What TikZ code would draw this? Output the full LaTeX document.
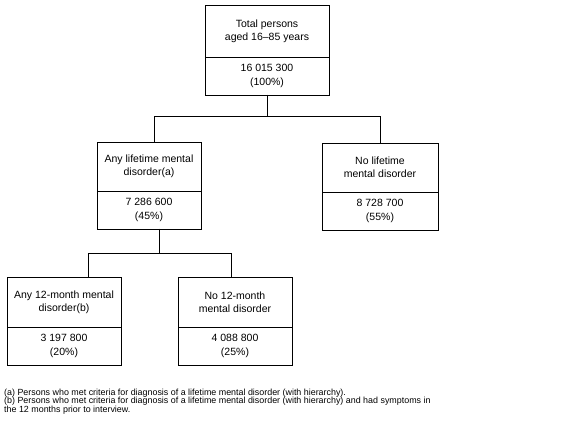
\documentclass[tikz,border=0pt]{standalone}
\usepackage{fontspec}
\setmainfont{Liberation Sans}
\usetikzlibrary{positioning}

\tikzset{
  cell/.style={draw, line width=0.8pt, outer sep=0pt, align=center,
    font=\fontsize{10.5}{13.3}\selectfont},
  tronc/.style={line width=0.8pt}
}

\begin{document}
\begin{tikzpicture}[x=1pt, y=-1pt]
  \useasboundingbox (0,0) rectangle (587,427);

  \foreach \cx/\cy/\larg/\haut/\nom/\titre/\nombre in {
      267/31/124/52/total/{Total persons\\aged 16--85 years}/{16 015 300\\(100\%)},
      149/166.5/104/49/anylife/{Any lifetime mental\\disorder(a)}/{7 286 600\\(45\%)},
      380/167.5/116/49/nolife/{No lifetime\\mental disorder}/{8 728 700\\(55\%)},
      64/302/114/50/anytwelve/{Any 12-month mental\\disorder(b)}/{3 197 800\\(20\%)},
      235/302/114/50/notwelve/{No 12-month\\mental disorder}/{4 088 800\\(25\%)}} {
    \node[cell, minimum width=\larg pt, minimum height=\haut pt] (\nom hd) at (\cx,\cy) {\titre};
    \node[cell, minimum width=\larg pt, minimum height=38pt, below=0pt of \nom hd] (\nom num) {\nombre};
  }

  % first split
  \draw[tronc] (totalnum.south) -- ++(0,21) -| ([xshift=5pt]anylifehd.north);
  \draw[tronc] (totalnum.south) -- ++(0,21) -| (nolifehd.north);

  % second split
  \draw[tronc] ([xshift=10pt]anylifenum.south) -- ++(0,24) -| ([xshift=24pt]anytwelvehd.north);
  \draw[tronc] ([xshift=10pt]anylifenum.south) -- ++(0,24) -| ([xshift=-4pt]notwelvehd.north);

  \node[anchor=north west, inner sep=0pt, align=left,
        font=\fontsize{8.9}{8.8}\selectfont] (notes) at (4,388.5)
    {(a) Persons who met criteria for diagnosis of a lifetime mental disorder (with hierarchy).\\
     (b) Persons who met criteria for diagnosis of a lifetime mental disorder (with hierarchy) and had symptoms in\\
     the 12 months prior to interview.};
\end{tikzpicture}
\end{document}
